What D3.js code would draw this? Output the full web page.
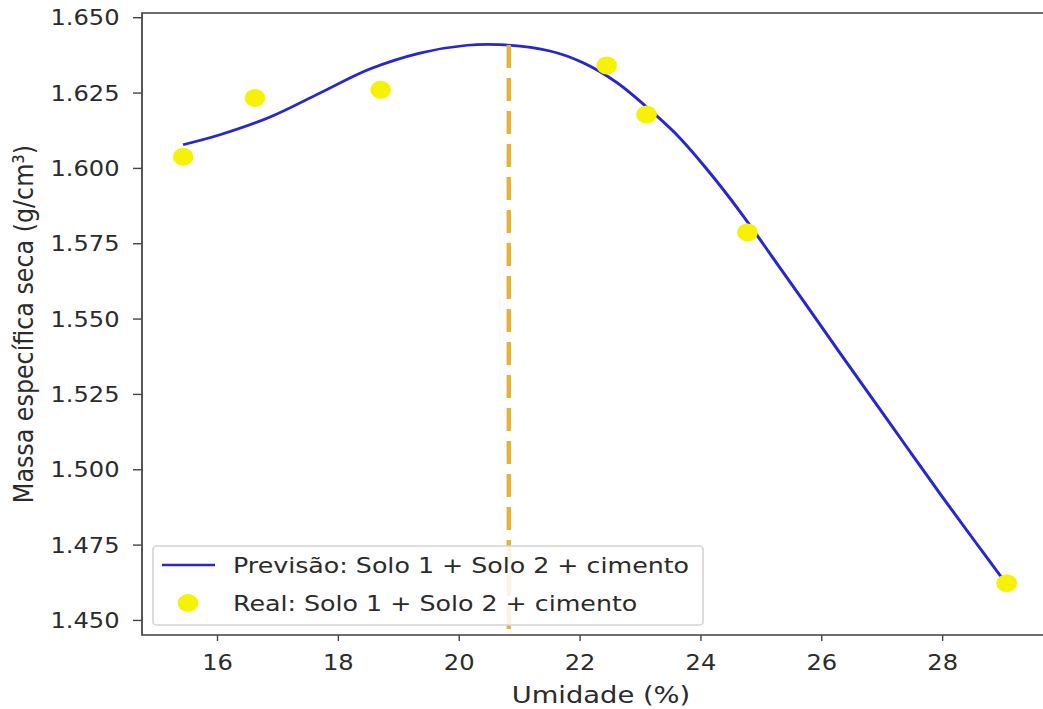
<!DOCTYPE html>
<html>
<head>
<meta charset="utf-8">
<script src="https://cdn.jsdelivr.net/npm/d3@7"></script>
<style>
  html, body { margin: 0; padding: 0; background: #ffffff; }
  svg { display: block; }
  text { font-family: "DejaVu Sans", "Liberation Sans", sans-serif; }
</style>
</head>
<body>
<svg id="chart" width="1043" height="709"></svg>
<script>
// Measured compaction points (moisture %, dry density g/cm³)
const umidadeReal = [15.44, 16.63, 18.71, 22.45, 23.11, 24.78, 29.07];
const massaReal   = [1.6037, 1.6232, 1.6259, 1.6340, 1.6177, 1.5786, 1.4622];

// Predicted compaction curve
const umidadePrevisao = [15.44, 16.05, 16.88, 17.71, 18.53, 19.36, 20.14, 20.68, 21.51, 22.06, 22.62,
                         23.10, 23.58, 24.09, 24.66, 25.20, 25.75, 26.31, 26.81, 27.39, 27.97, 28.55, 29.07];
const massaPrevisao   = [1.6077, 1.6110, 1.6169, 1.6249, 1.6328, 1.6381, 1.6407, 1.6409, 1.6388, 1.6349, 1.6283,
                         1.6204, 1.6116, 1.6000, 1.5854, 1.5702, 1.5546, 1.5386, 1.5245, 1.5081, 1.4918, 1.4759, 1.4618];

// Optimum moisture content and the curve peak
const umidadeOtima = 20.83;
const massaMaxima = 1.6408;

// Axis ticks and labels
const xTicks = [16, 18, 20, 22, 24, 26, 28];
const yTicks = [1.450, 1.475, 1.500, 1.525, 1.550, 1.575, 1.600, 1.625, 1.650];
const xDomain = [14.76, 29.72];
const yDomain = [1.4450, 1.6514];
const xLabel = "Umidade (%)";
const yLabel = "Massa específica seca (g/cm³)";
const legendLabels = ["Previsão: Solo 1 + Solo 2 + cimento", "Real: Solo 1 + Solo 2 + cimento"];

// The figure is drawn in a horizontally stretched coordinate system
const W = 1043, H = 709;
const SX = 1.15;
const lx = v => v / SX;            // screen x -> drawing x
const TICK_FONT = 21;
const LEGEND_FONT = 22;
const LABEL_FONT = 23.8;

const svg = d3.select("#chart")
  .attr("viewBox", `0 0 ${W / SX} ${H}`)
  .attr("preserveAspectRatio", "none");

const frame = { left: 142, right: 1046, top: 13, bottom: 635 };

const x = d3.scaleLinear().domain(xDomain).range([lx(frame.left), lx(frame.right)]);
const y = d3.scaleLinear().domain(yDomain).range([frame.bottom, frame.top]);

const textColor = "#2b2b2b";

// Axes
const xAxis = d3.axisBottom(x).tickValues(xTicks).tickSize(6).tickPadding(14).tickFormat(d3.format("d"));
const gx = svg.append("g").attr("transform", `translate(0,${frame.bottom})`).call(xAxis);
gx.select(".domain").remove();
gx.selectAll(".tick line").attr("stroke", "#444").attr("stroke-width", 1.4 / SX);
gx.selectAll(".tick text").attr("fill", textColor).attr("font-size", TICK_FONT);

const yAxis = d3.axisLeft(y).tickValues(yTicks).tickSize(lx(9)).tickPadding(lx(13.5)).tickFormat(d3.format(".3f"));
const gy = svg.append("g").attr("transform", `translate(${lx(frame.left)},0)`).call(yAxis);
gy.select(".domain").remove();
gy.selectAll(".tick line").attr("stroke", "#444").attr("stroke-width", 1.4);
gy.selectAll(".tick text").attr("fill", textColor).attr("font-size", TICK_FONT).attr("dy", "0.36em");

// Axis frame
svg.append("rect")
  .attr("x", lx(frame.left)).attr("y", frame.top)
  .attr("width", lx(frame.right) - lx(frame.left)).attr("height", frame.bottom - frame.top)
  .attr("fill", "none").attr("stroke", "#4a4a4a").attr("stroke-width", 1.6);

// Axis titles
svg.append("text")
  .attr("x", lx(601)).attr("y", 703)
  .attr("text-anchor", "middle").attr("font-size", LABEL_FONT).attr("fill", textColor)
  .text(xLabel);

svg.append("text")
  .attr("transform", `translate(${lx(23)},${(frame.top + frame.bottom) / 2}) rotate(-90)`)
  .attr("text-anchor", "middle").attr("dominant-baseline", "central")
  .attr("font-size", LABEL_FONT).attr("fill", textColor)
  .text(yLabel);

// Clip to the plotting area
svg.append("clipPath").attr("id", "plot-clip")
  .append("rect")
  .attr("x", lx(frame.left)).attr("y", frame.top)
  .attr("width", lx(frame.right) - lx(frame.left)).attr("height", frame.bottom - frame.top);

const plot = svg.append("g").attr("clip-path", "url(#plot-clip)");

const curveColor = "#2727d0";
const pointColor = "#f6f200";

// Predicted curve
const curveData = umidadePrevisao.map((u, i) => [u, massaPrevisao[i]]);
plot.append("path")
  .datum(curveData)
  .attr("fill", "none")
  .attr("stroke", curveColor)
  .attr("stroke-width", 2.7)
  .attr("stroke-linejoin", "round")
  .attr("d", d3.line().x(d => x(d[0])).y(d => y(d[1])).curve(d3.curveCatmullRom.alpha(0.5)));

// Measured points
const POINT_R = 9;
plot.selectAll("circle.real")
  .data(umidadeReal.map((u, i) => [u, massaReal[i]]))
  .join("circle")
  .attr("class", "real")
  .attr("cx", d => x(d[0]))
  .attr("cy", d => y(d[1]))
  .attr("r", POINT_R)
  .attr("fill", pointColor);

// Legend
const legend = svg.append("g");
legend.append("rect")
  .attr("x", lx(153)).attr("y", 546)
  .attr("width", lx(703) - lx(153)).attr("height", 79)
  .attr("rx", 3).attr("ry", 3)
  .attr("fill", "#ffffff").attr("fill-opacity", 0.85)
  .attr("stroke", "#d4d4d4").attr("stroke-width", 1.4);
legend.append("line")
  .attr("x1", lx(162)).attr("x2", lx(215))
  .attr("y1", 565).attr("y2", 565)
  .attr("stroke", curveColor).attr("stroke-width", 2.7);
legend.append("circle")
  .attr("cx", lx(188)).attr("cy", 603).attr("r", POINT_R)
  .attr("fill", pointColor);
legend.selectAll("text.lab")
  .data(legendLabels)
  .join("text")
  .attr("class", "lab")
  .attr("x", lx(233))
  .attr("y", (d, i) => 565 + i * 38)
  .attr("dy", "0.36em")
  .attr("font-size", LEGEND_FONT)
  .attr("fill", textColor)
  .text(d => d);

// Optimum moisture marker
plot.append("line")
  .attr("x1", x(umidadeOtima)).attr("x2", x(umidadeOtima))
  .attr("y1", y(massaMaxima)).attr("y2", y(yDomain[0]))
  .attr("stroke", "#e5b23c")
  .attr("stroke-width", lx(4.5))
  .attr("stroke-dasharray", "23,10");
</script>
</body>
</html>
